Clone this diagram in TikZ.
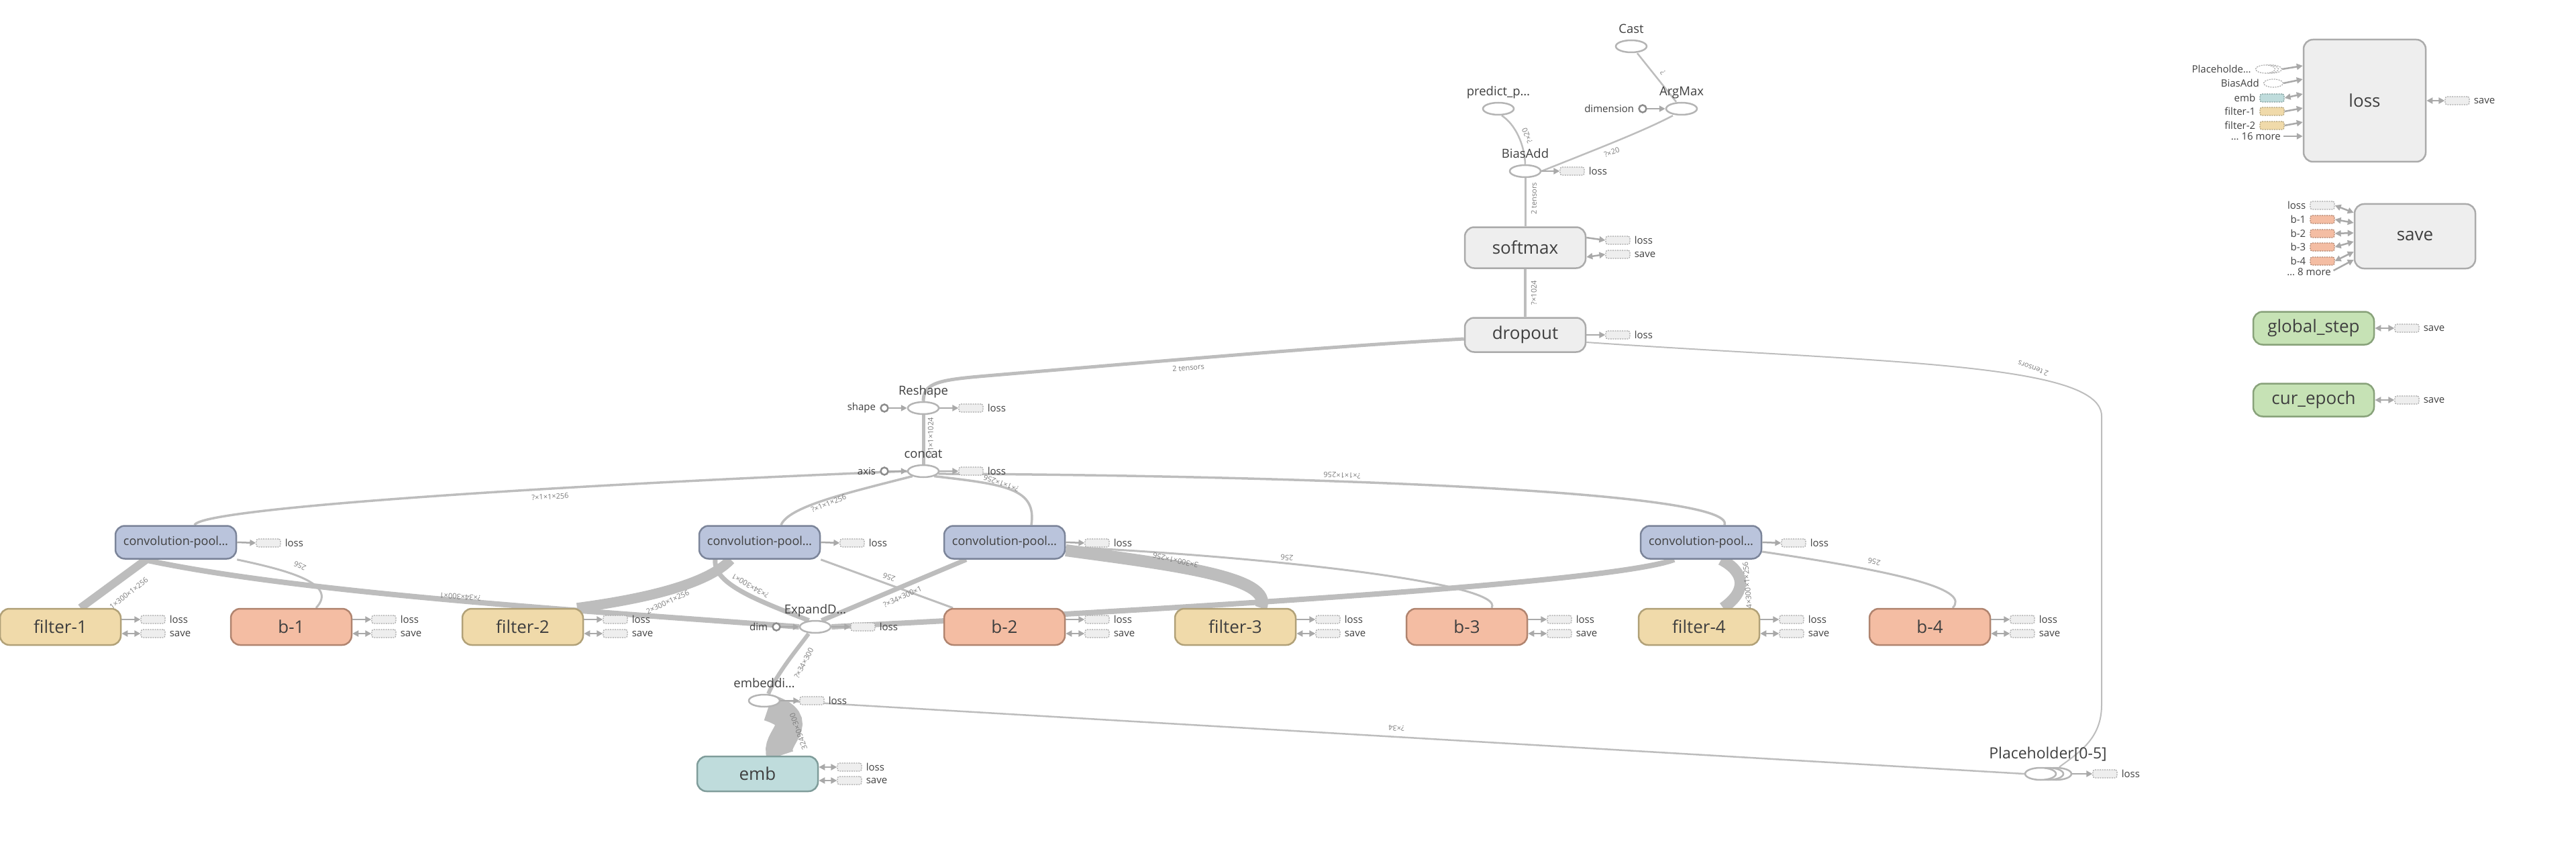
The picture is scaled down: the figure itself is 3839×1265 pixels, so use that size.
\documentclass[tikz,border=0pt]{standalone}
\usepackage{fontspec}
\setmainfont{Open Sans}
\usetikzlibrary{shapes.geometric,arrows.meta,backgrounds}

\definecolor{edgegray}{HTML}{BDBDBD}
\definecolor{arrowgray}{HTML}{A9A9A9}
\definecolor{textgray}{HTML}{3F3F3F}
\definecolor{labelgray}{HTML}{7A7A7A}
\definecolor{opline}{HTML}{B4B4B4}
\definecolor{constline}{HTML}{8C8C8C}
\definecolor{grayfill}{HTML}{EEEEEE}
\definecolor{grayline}{HTML}{ABABAB}
\definecolor{tagline}{HTML}{A8A8A8}
\definecolor{convfill}{HTML}{BAC4DC}
\definecolor{convline}{HTML}{7B8499}
\definecolor{filtfill}{HTML}{F0DAAA}
\definecolor{filtline}{HTML}{B1A178}
\definecolor{biasfill}{HTML}{F4BDA3}
\definecolor{biasline}{HTML}{B0846F}
\definecolor{embfill}{HTML}{BFDCDC}
\definecolor{embline}{HTML}{7F9C9A}
\definecolor{varfill}{HTML}{C6E2B5}
\definecolor{varline}{HTML}{88A27A}

\newcommand\boxfont{\fontsize{26pt}{28pt}\selectfont}
\newcommand\convfont{\fontsize{18pt}{20pt}\selectfont}
\newcommand\opfont{\fontsize{18.5pt}{20pt}\selectfont}
\newcommand\phfont{\fontsize{23pt}{25pt}\selectfont}
\newcommand\tagfont{\fontsize{15pt}{17pt}\selectfont}
\newcommand\edgefont{\fontsize{11pt}{12pt}\selectfont}

\begin{document}
\begin{tikzpicture}[x=1pt, y=-1pt,
  nodebox/.style={rectangle, rounded corners=14pt, line width=2.5pt, minimum width=180pt, minimum height=49pt, inner sep=0pt, font=\boxfont, text=textgray},
  graybox/.style={nodebox, fill=grayfill, draw=grayline},
  convbox/.style={nodebox, fill=convfill, draw=convline, font=\convfont},
  filtbox/.style={nodebox, fill=filtfill, draw=filtline, minimum height=54pt},
  biasbox/.style={nodebox, fill=biasfill, draw=biasline, minimum height=54pt},
  varbox/.style={nodebox, fill=varfill, draw=varline},
  opnode/.style={ellipse, draw=opline, line width=2.5pt, fill=white, minimum width=46pt, minimum height=18pt, inner sep=0pt},
  constnode/.style={circle, draw=constline, line width=2.5pt, fill=white, minimum size=11pt, inner sep=0pt},
  tagbox/.style={rectangle, rounded corners=3pt, draw=tagline, dash pattern=on 2pt off 1.5pt, line width=1.2pt, fill=grayfill, minimum width=36pt, minimum height=12pt, inner sep=0pt},
  tagell/.style={ellipse, draw=tagline, dash pattern=on 2pt off 1.5pt, line width=1.2pt, fill=white, minimum width=29pt, minimum height=12pt, inner sep=0pt},
  taglabel/.style={font=\tagfont, text=textgray, inner sep=0pt},
  tagright/.style={taglabel, xshift=6pt},
  tagleft/.style={taglabel, xshift=-6pt},
  oplabel/.style={font=\opfont, text=textgray, inner sep=0pt, text depth=0pt, yshift=9pt},
  elabel/.style={font=\edgefont, text=labelgray, inner sep=0pt},
  flow/.style={draw=edgegray, line width=#1},
  flow/.default=3pt,
  tagarrow/.style={draw=arrowgray, line width=2.5pt, -{Triangle[length=9pt,width=9pt]}},
  tagboth/.style={draw=arrowgray, line width=2.5pt, {Triangle[length=9pt,width=9pt]}-{Triangle[length=9pt,width=9pt]}}]
  \useasboundingbox (0,0) rectangle (3839,1265);

  \node[opnode, label={[oplabel]above:Cast}] (cast) at (2431,69) {};
  \node[opnode, label={[oplabel]above:ArgMax}] (argmax) at (2506,162) {};
  \node[constnode, label={[tagleft]left:dimension}] (dimension) at (2448,162) {};
  \node[opnode, label={[oplabel]above:predict\_p…}] (predict) at (2233,162) {};
  \node[opnode, label={[oplabel]above:BiasAdd}] (biasadd) at (2273,255) {};
  \node[tagbox, label={[tagright]right:loss}] (biasaddloss) at (2343,255) {};
  \draw[tagarrow] (dimension.east) -- (argmax.west);
  \draw[tagarrow] (biasadd.east) -- (biasaddloss.west);

  \node[graybox, minimum height=61pt] (softmax) at (2273,369) {softmax};
  \node[tagbox, label={[tagright]right:loss}] (softmaxloss) at (2411,358) {};
  \node[tagbox, label={[tagright]right:save}] (softmaxsave) at (2411,379) {};
  \draw[tagarrow] ([yshift=15pt]softmax.east) -- (softmaxloss.west);
  \draw[tagboth] ([yshift=-14pt]softmax.east) -- (softmaxsave.west);
  \node[graybox, minimum height=51pt] (dropout) at (2273,499) {dropout};
  \node[tagbox, label={[tagright]right:loss}] (dropoutloss) at (2411,499) {};
  \draw[tagarrow] (dropout.east) -- (dropoutloss.west);

  \node[graybox, minimum width=182pt, minimum height=182pt] (loss) at (3524,150) {loss};
  \node[tagell] (lossinph3) at (3386,103) {};
  \node[tagell] (lossinph2) at (3381,103) {};
  \node[tagell, label={[tagleft]left:Placeholde…}] (lossinph) at (3376,103) {};
  \node[tagell, label={[tagleft]left:BiasAdd}] (lossinbias) at (3388,124) {};
  \node[tagbox, fill=embfill, draw=embline, label={[tagleft]left:emb}] (lossinemb) at (3386,146) {};
  \node[tagbox, fill=filtfill, draw=filtline, label={[tagleft]left:filter-1}] (lossinf1) at (3386,166) {};
  \node[tagbox, fill=filtfill, draw=filtline, label={[tagleft]left:filter-2}] (lossinf2) at (3386,187) {};
  \node[taglabel, anchor=east] (lossinmore) at (3399,203) {… 16 more};
  \draw[tagarrow] (lossinph3.east) -- ([yshift=52pt]loss.west);
  \draw[tagarrow] (lossinbias.east) -- ([yshift=32pt]loss.west);
  \draw[tagboth] (lossinemb.east) -- ([yshift=10pt]loss.west);
  \draw[tagarrow] (lossinf1.east) -- ([yshift=-11pt]loss.west);
  \draw[tagarrow] (lossinf2.east) -- ([yshift=-32pt]loss.west);
  \draw[tagarrow, shorten <=4pt] (lossinmore.east) -- ([yshift=-53pt]loss.west);
  \node[tagbox, label={[tagright]right:save}] (losssave) at (3662,150) {};
  \draw[tagboth] (loss.east) -- (losssave.west);

  \node[graybox, minimum height=96pt] (save) at (3599,352) {save};
  \node[tagbox, label={[tagleft]left:loss}] (saveinloss) at (3461,306) {};
  \node[tagbox, fill=biasfill, draw=biasline, label={[tagleft]left:b-1}] (saveinb1) at (3461,327) {};
  \node[tagbox, fill=biasfill, draw=biasline, label={[tagleft]left:b-2}] (saveinb2) at (3461,348) {};
  \node[tagbox, fill=biasfill, draw=biasline, label={[tagleft]left:b-3}] (saveinb3) at (3461,368) {};
  \node[tagbox, fill=biasfill, draw=biasline, label={[tagleft]left:b-4}] (saveinb4) at (3461,389) {};
  \node[taglabel, anchor=east] (saveinmore) at (3474,405) {… 8 more};
  \draw[tagboth] (saveinloss.east) -- ([yshift=35pt]save.west);
  \draw[tagboth] (saveinb1.east) -- ([yshift=20pt]save.west);
  \draw[tagboth] (saveinb2.east) -- ([yshift=5pt]save.west);
  \draw[tagboth] (saveinb3.east) -- ([yshift=-8pt]save.west);
  \draw[tagboth] (saveinb4.east) -- ([yshift=-23pt]save.west);
  \draw[tagarrow, shorten <=4pt] (saveinmore.east) -- ([yshift=-35pt]save.west);

  \node[varbox] (globalstep) at (3448,489) {global\_step};
  \node[tagbox, label={[tagright]right:save}] (globalstepsave) at (3587,489) {};
  \draw[tagboth] (globalstep.east) -- (globalstepsave.west);
  \node[varbox] (curepoch) at (3448,596) {cur\_epoch};
  \node[tagbox, label={[tagright]right:save}] (curepochsave) at (3587,596) {};
  \draw[tagboth] (curepoch.east) -- (curepochsave.west);

  \node[opnode, label={[oplabel]above:Reshape}] (reshape) at (1376,608) {};
  \node[constnode, label={[tagleft]left:shape}] (shape) at (1318,608) {};
  \node[tagbox, label={[tagright]right:loss}] (reshapeloss) at (1447,608) {};
  \draw[tagarrow] (shape.east) -- (reshape.west);
  \draw[tagarrow] (reshape.east) -- (reshapeloss.west);
  \node[opnode, label={[oplabel]above:concat}] (concat) at (1376,702) {};
  \node[constnode, label={[tagleft]left:axis}] (axis) at (1318,702) {};
  \node[tagbox, label={[tagright]right:loss}] (concatloss) at (1447,702) {};
  \draw[tagarrow] (axis.east) -- (concat.west);
  \draw[tagarrow] (concat.east) -- (concatloss.west);

  \node[convbox] (conv1) at (262,808) {convolution-pool…};
  \node[tagbox, label={[tagright]right:loss}] (conv1loss) at (400,809) {};
  \draw[tagarrow] (conv1.east) -- (conv1loss.west);
  \node[convbox] (conv2) at (1132,808) {convolution-pool…};
  \node[tagbox, label={[tagright]right:loss}] (conv2loss) at (1270,809) {};
  \draw[tagarrow] (conv2.east) -- (conv2loss.west);
  \node[convbox] (conv3) at (1497,808) {convolution-pool…};
  \node[tagbox, label={[tagright]right:loss}] (conv3loss) at (1635,809) {};
  \draw[tagarrow] (conv3.east) -- (conv3loss.west);
  \node[convbox] (conv4) at (2535,808) {convolution-pool…};
  \node[tagbox, label={[tagright]right:loss}] (conv4loss) at (2673,809) {};
  \draw[tagarrow] (conv4.east) -- (conv4loss.west);

  \node[filtbox] (filter1) at (90,934) {filter-1};
  \node[tagbox, label={[tagright]right:loss}] (filter1loss) at (228,923) {};
  \node[tagbox, label={[tagright]right:save}] (filter1save) at (228,944) {};
  \draw[tagarrow] ([yshift=11pt]filter1.east) -- (filter1loss.west);
  \draw[tagboth] ([yshift=-10pt]filter1.east) -- (filter1save.west);
  \node[biasbox] (b1) at (434,934) {b-1};
  \node[tagbox, label={[tagright]right:loss}] (b1loss) at (572,923) {};
  \node[tagbox, label={[tagright]right:save}] (b1save) at (572,944) {};
  \draw[tagarrow] ([yshift=11pt]b1.east) -- (b1loss.west);
  \draw[tagboth] ([yshift=-10pt]b1.east) -- (b1save.west);
  \node[filtbox] (filter2) at (779,934) {filter-2};
  \node[tagbox, label={[tagright]right:loss}] (filter2loss) at (917,923) {};
  \node[tagbox, label={[tagright]right:save}] (filter2save) at (917,944) {};
  \draw[tagarrow] ([yshift=11pt]filter2.east) -- (filter2loss.west);
  \draw[tagboth] ([yshift=-10pt]filter2.east) -- (filter2save.west);
  \node[biasbox] (b2) at (1497,934) {b-2};
  \node[tagbox, label={[tagright]right:loss}] (b2loss) at (1635,923) {};
  \node[tagbox, label={[tagright]right:save}] (b2save) at (1635,944) {};
  \draw[tagarrow] ([yshift=11pt]b2.east) -- (b2loss.west);
  \draw[tagboth] ([yshift=-10pt]b2.east) -- (b2save.west);
  \node[filtbox] (filter3) at (1841,934) {filter-3};
  \node[tagbox, label={[tagright]right:loss}] (filter3loss) at (1979,923) {};
  \node[tagbox, label={[tagright]right:save}] (filter3save) at (1979,944) {};
  \draw[tagarrow] ([yshift=11pt]filter3.east) -- (filter3loss.west);
  \draw[tagboth] ([yshift=-10pt]filter3.east) -- (filter3save.west);
  \node[biasbox] (b3) at (2186,934) {b-3};
  \node[tagbox, label={[tagright]right:loss}] (b3loss) at (2324,923) {};
  \node[tagbox, label={[tagright]right:save}] (b3save) at (2324,944) {};
  \draw[tagarrow] ([yshift=11pt]b3.east) -- (b3loss.west);
  \draw[tagboth] ([yshift=-10pt]b3.east) -- (b3save.west);
  \node[filtbox] (filter4) at (2532,934) {filter-4};
  \node[tagbox, label={[tagright]right:loss}] (filter4loss) at (2670,923) {};
  \node[tagbox, label={[tagright]right:save}] (filter4save) at (2670,944) {};
  \draw[tagarrow] ([yshift=11pt]filter4.east) -- (filter4loss.west);
  \draw[tagboth] ([yshift=-10pt]filter4.east) -- (filter4save.west);
  \node[biasbox] (b4) at (2876,934) {b-4};
  \node[tagbox, label={[tagright]right:loss}] (b4loss) at (3014,923) {};
  \node[tagbox, label={[tagright]right:save}] (b4save) at (3014,944) {};
  \draw[tagarrow] ([yshift=11pt]b4.east) -- (b4loss.west);
  \draw[tagboth] ([yshift=-10pt]b4.east) -- (b4save.west);

  \node[opnode, label={[oplabel]above:ExpandD…}] (expandd) at (1215,934) {};
  \node[constnode, label={[tagleft]left:dim}] (dim) at (1157,934) {};
  \node[tagbox, label={[tagright]right:loss}] (expanddloss) at (1286,934) {};
  \draw[tagarrow] (dim.east) -- (expandd.west);
  \draw[tagarrow] (expandd.east) -- (expanddloss.west);
  \node[opnode, label={[oplabel]above:embeddi…}] (embeddi) at (1139,1044) {};
  \node[tagbox, label={[tagright]right:loss}] (embeddiloss) at (1210,1044) {};
  \draw[tagarrow] (embeddi.east) -- (embeddiloss.west);
  \node[nodebox, fill=embfill, draw=embline, minimum height=52pt] (emb) at (1129,1153) {emb};
  \node[tagbox, label={[tagright]right:loss}] (embloss) at (1266,1143) {};
  \node[tagbox, label={[tagright]right:save}] (embsave) at (1266,1163) {};
  \draw[tagboth] ([yshift=10pt]emb.east) -- (embloss.west);
  \draw[tagboth] ([yshift=-10pt]emb.east) -- (embsave.west);

  \node[opnode] (ph3) at (3064,1153) {};
  \node[opnode, label={[oplabel, yshift=3pt, font=\phfont]above:{Placeholder[0-5]}}] (ph2) at (3052,1153) {};
  \node[opnode] (ph1) at (3041,1153) {};
  \node[tagbox, label={[tagright]right:loss}] (phloss) at (3137,1153) {};
  \draw[tagarrow] (ph3.east) -- (phloss.west);

  \begin{pgfonlayer}{background}
  \draw[flow=2.5pt] ([xshift=9pt]cast.south) -- ([xshift=-8pt]argmax.north);
  \draw[flow=2.5pt] ([xshift=-13pt]argmax.south) .. controls (2450,195) and (2380,222) .. (biasadd.east);
  \draw[flow=2.5pt] ([xshift=5pt]predict.south) .. controls (2258,185) and (2272,215) .. (biasadd.north);
  \draw[flow=3pt] (biasadd.south) -- (softmax.north);
  \draw[flow=4pt] (softmax.south) -- (dropout.north);
  \draw[flow=5pt] (reshape.north) .. controls (1376,570) and (1400,566) .. (1470,560) .. controls (1800,532) and (2000,515) .. ([yshift=-6pt]dropout.west);
  \draw[flow=2pt] ([yshift=-11pt]dropout.east) .. controls (2800,540) and (3132,540) .. (3132,620) -- (3132,1050) .. controls (3132,1100) and (3100,1120) .. ([xshift=5pt]ph3.north);
  \draw[flow=5pt] (concat.north) -- (reshape.south);
  \draw[flow=3.5pt] ([xshift=28pt]conv1.north) .. controls (300,755) and (900,720) .. (concat.west);
  \draw[flow=3.5pt] ([xshift=32pt]conv2.north) .. controls (1175,755) and (1260,735) .. (concat.205);
  \draw[flow=3.5pt] ([xshift=40pt]conv3.north) .. controls (1545,728) and (1500,722) .. (concat.-25);
  \draw[flow=3.5pt] ([xshift=35pt]conv4.north) .. controls (2590,730) and (1900,708) .. (concat.-10);
  \draw[flow=12pt] ([xshift=30pt]filter1.north) -- ([xshift=-44pt]conv1.south);
  \draw[flow=3pt] ([xshift=37pt]b1.north) .. controls (505,870) and (430,850) .. (conv1.south east);
  \draw[flow=8pt] (expandd.west) .. controls (900,912) and (450,885) .. ([xshift=-48pt]conv1.south);
  \draw[flow=15pt] ([xshift=81pt]filter2.north) .. controls (940,895) and (1050,875) .. ([xshift=-43pt]conv2.south);
  \draw[flow=7pt] (expandd.135) .. controls (1130,895) and (1062,870) .. ([xshift=-66pt]conv2.south);
  \draw[flow=3pt] ([xshift=-77pt]b2.north) -- (conv2.south east);
  \draw[flow=7pt] (expandd.45) -- ([xshift=-57pt]conv3.south);
  \draw[flow=18pt] ([xshift=38pt]filter3.north) .. controls (1900,860) and (1750,842) .. ([yshift=-12pt]conv3.east);
  \draw[flow=3pt] ([xshift=37pt]b3.north) .. controls (2245,870) and (1900,830) .. ([yshift=-7pt]conv3.east);
  \draw[flow=8pt] (expandd.east) .. controls (1700,910) and (2400,870) .. ([xshift=-40pt]conv4.south);
  \draw[flow=17pt] ([xshift=36pt]filter4.north) .. controls (2605,880) and (2600,852) .. ([xshift=30pt]conv4.south);
  \draw[flow=3pt] ([xshift=34pt]b4.north) .. controls (2935,880) and (2850,855) .. ([yshift=-14pt]conv4.east);
  \draw[flow=6pt] ([xshift=6pt]embeddi.north) .. controls (1160,1000) and (1190,965) .. ([xshift=-10pt]expandd.south);
  \draw[flow=40pt] ([xshift=34pt]emb.north) .. controls (1150,1100) and (1210,1075) .. ([xshift=6pt]embeddi.south);
  \draw[flow=2.5pt] (ph1.west) -- (embeddi.east);
  \end{pgfonlayer}

  \node[elabel, rotate=128] (lcast) at (2478,108) {?};
  \node[elabel, rotate=20] (largmax) at (2402,227) {?×20};
  \node[elabel, rotate=113] (lpredict) at (2276,202) {?×20};
  \node[elabel, rotate=90] (lbiasadd) at (2286,296) {2 tensors};
  \node[elabel, rotate=90] (lsoftmax) at (2286,436) {?×1024};
  \node[elabel, rotate=5] (lreshape) at (1771,548) {2 tensors};
  \node[elabel, rotate=160] (lkeep) at (3030,549) {2 tensors};
  \node[elabel, rotate=90] (lconcat) at (1387,653) {?×1×1×1024};
  \node[elabel, rotate=3] (lconv1) at (820,740) {?×1×1×256};
  \node[elabel, rotate=22] (lconv2) at (1235,750) {?×1×1×256};
  \node[elabel, rotate=160] (lconv3) at (1492,720) {?×1×1×256};
  \node[elabel, rotate=178] (lconv4) at (2000,708) {?×1×1×256};
  \node[elabel, rotate=38] (lfilter1) at (192,884) {1×300×1×256};
  \node[elabel, rotate=155] (lb1) at (447,843) {256};
  \node[elabel, rotate=176] (lexpand1) at (686,889) {?×34×300×1};
  \node[elabel, rotate=25] (lfilter2) at (995,897) {2×300×1×256};
  \node[elabel, rotate=150] (lexpand2) at (1118,873) {?×34×300×1};
  \node[elabel, rotate=160] (lb2) at (1325,860) {256};
  \node[elabel, rotate=24] (lexpand3) at (1345,889) {?×34×300×1};
  \node[elabel, rotate=167] (lfilter3) at (1752,835) {3×300×1×256};
  \node[elabel, rotate=176] (lb3) at (1918,831) {256};
  \node[elabel, rotate=95] (lfilter4) at (2604,872) {4×300×1×256};
  \node[elabel, rotate=168] (lb4) at (2793,837) {256};
  \node[elabel, rotate=62] (lembeddi) at (1198,988) {?×34×300};
  \node[elabel, rotate=110] (lemb) at (1190,1090) {32490×300};
  \node[elabel, rotate=176.6] (lplaceholder) at (2081,1085) {?×34};
\end{tikzpicture}
\end{document}
